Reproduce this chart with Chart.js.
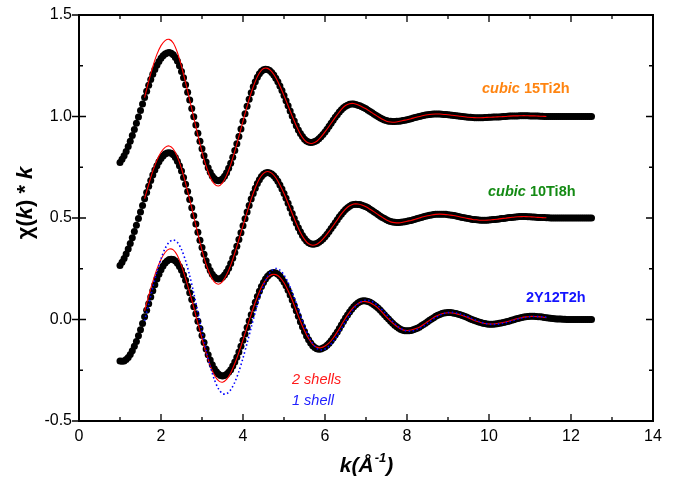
<!DOCTYPE html>
<html>
<head>
<meta charset="utf-8">
<title>chi(k)*k</title>
<script src="https://cdn.jsdelivr.net/npm/chart.js@4.4.1/dist/chart.umd.min.js"></script>
<style>
  html, body { margin: 0; padding: 0; background: #fff; }
  canvas { display: block; }
</style>
</head>
<body>
<canvas id="c" width="677" height="485"></canvas>
<script>
/* measured points: k from 1.00 to 12.50, step 0.05 */
const dotStart = 1.0, dotStep = 0.05;

const ti2hDots = [
  0.773,0.789,0.807,0.828,0.852,0.878,0.906,0.936,0.967,0.998,
  1.030,1.062,1.093,1.124,1.154,1.182,1.208,1.232,1.253,1.271,
  1.287,1.299,1.308,1.313,1.315,1.312,1.304,1.291,1.273,1.250,
  1.222,1.191,1.157,1.120,1.081,1.040,0.999,0.958,0.917,0.878,
  0.841,0.807,0.776,0.748,0.725,0.707,0.694,0.686,0.683,0.686,
  0.693,0.706,0.723,0.745,0.770,0.799,0.832,0.866,0.902,0.939,
  0.977,1.014,1.050,1.085,1.117,1.146,1.171,1.193,1.210,1.223,
  1.230,1.233,1.231,1.226,1.217,1.204,1.189,1.171,1.150,1.128,
  1.103,1.078,1.053,1.027,1.002,0.978,0.955,0.934,0.916,0.901,
  0.888,0.879,0.874,0.872,0.873,0.877,0.882,0.890,0.900,0.911,
  0.924,0.937,0.952,0.967,0.981,0.996,1.009,1.022,1.033,1.043,
  1.051,1.056,1.060,1.061,1.061,1.059,1.056,1.053,1.048,1.043,
  1.038,1.031,1.025,1.018,1.011,1.005,0.999,0.993,0.988,0.983,
  0.980,0.977,0.976,0.975,0.975,0.976,0.977,0.978,0.980,0.982,
  0.984,0.987,0.989,0.992,0.995,0.998,1.000,1.003,1.005,1.007,
  1.009,1.010,1.011,1.012,1.012,1.012,1.012,1.011,1.010,1.010,
  1.009,1.008,1.006,1.005,1.004,1.002,1.001,1.000,0.999,0.997,
  0.996,0.996,0.995,0.994,0.994,0.994,0.994,0.994,0.995,0.995,
  0.996,0.996,0.997,0.997,0.998,0.998,0.999,1.000,1.000,1.001,
  1.002,1.002,1.003,1.003,1.003,1.004,1.004,1.004,1.004,1.004,
  1.003,1.003,1.003,1.002,1.002,1.001,1.001,1.000,1.000,1.000,
  1.000,1.000,1.000,1.000,1.000,1.000,1.000,1.000,1.000,1.000,
  1.000,1.000,1.000,1.000,1.000,1.000,1.000,1.000,1.000,1.000,
  1.000
];

const ti8hDots = [
  0.266,0.282,0.301,0.323,0.347,0.374,0.403,0.433,0.464,0.497,
  0.530,0.562,0.595,0.626,0.656,0.685,0.712,0.736,0.758,0.777,
  0.793,0.806,0.815,0.820,0.822,0.819,0.811,0.798,0.780,0.758,
  0.731,0.700,0.666,0.630,0.591,0.551,0.511,0.470,0.430,0.391,
  0.355,0.321,0.290,0.263,0.241,0.223,0.210,0.202,0.199,0.201,
  0.208,0.219,0.234,0.253,0.276,0.302,0.330,0.361,0.394,0.427,
  0.462,0.496,0.529,0.562,0.593,0.621,0.647,0.670,0.689,0.704,
  0.715,0.722,0.724,0.722,0.717,0.708,0.696,0.681,0.663,0.643,
  0.621,0.597,0.573,0.548,0.522,0.498,0.474,0.452,0.432,0.414,
  0.399,0.387,0.378,0.373,0.371,0.372,0.375,0.381,0.388,0.397,
  0.408,0.420,0.434,0.448,0.462,0.477,0.491,0.506,0.519,0.531,
  0.542,0.551,0.558,0.564,0.567,0.568,0.567,0.566,0.563,0.559,
  0.555,0.550,0.543,0.537,0.530,0.523,0.516,0.509,0.503,0.497,
  0.491,0.487,0.483,0.480,0.479,0.478,0.478,0.479,0.480,0.482,
  0.484,0.486,0.488,0.491,0.494,0.497,0.500,0.503,0.506,0.509,
  0.511,0.514,0.515,0.517,0.518,0.519,0.519,0.519,0.518,0.518,
  0.516,0.515,0.513,0.512,0.510,0.507,0.505,0.503,0.501,0.499,
  0.497,0.495,0.493,0.492,0.491,0.490,0.489,0.489,0.489,0.489,
  0.490,0.491,0.492,0.493,0.494,0.495,0.497,0.498,0.499,0.501,
  0.502,0.503,0.504,0.505,0.506,0.507,0.507,0.507,0.507,0.506,
  0.506,0.505,0.505,0.504,0.503,0.503,0.502,0.502,0.501,0.501,
  0.500,0.500,0.500,0.500,0.500,0.500,0.500,0.500,0.500,0.500,
  0.500,0.500,0.500,0.500,0.500,0.500,0.500,0.500,0.500,0.500,
  0.500
];

const y12Dots = [
  -0.204,-0.206,-0.204,-0.197,-0.187,-0.172,-0.154,-0.132,-0.108,-0.080,
  -0.051,-0.020,0.013,0.046,0.078,0.111,0.142,0.171,0.199,0.223,
  0.245,0.263,0.278,0.288,0.295,0.297,0.295,0.288,0.277,0.261,
  0.242,0.219,0.193,0.164,0.132,0.098,0.063,0.028,-0.009,-0.044,
  -0.079,-0.113,-0.145,-0.174,-0.200,-0.223,-0.243,-0.258,-0.269,-0.276,
  -0.278,-0.276,-0.270,-0.260,-0.247,-0.229,-0.209,-0.186,-0.160,-0.132,
  -0.102,-0.071,-0.040,-0.008,0.024,0.055,0.085,0.113,0.139,0.162,
  0.182,0.200,0.213,0.223,0.229,0.231,0.229,0.223,0.214,0.201,
  0.185,0.166,0.144,0.121,0.096,0.069,0.043,0.016,-0.011,-0.036,
  -0.059,-0.081,-0.100,-0.116,-0.129,-0.138,-0.144,-0.146,-0.145,-0.141,
  -0.135,-0.127,-0.117,-0.105,-0.091,-0.076,-0.061,-0.044,-0.027,-0.010,
  0.007,0.022,0.037,0.051,0.063,0.073,0.081,0.087,0.091,0.092,
  0.091,0.089,0.085,0.079,0.072,0.064,0.055,0.045,0.034,0.024,
  0.012,0.002,-0.009,-0.019,-0.028,-0.036,-0.043,-0.049,-0.053,-0.055,
  -0.056,-0.055,-0.054,-0.051,-0.047,-0.043,-0.038,-0.031,-0.025,-0.018,
  -0.011,-0.004,0.003,0.009,0.016,0.021,0.025,0.029,0.032,0.033,
  0.034,0.034,0.033,0.031,0.029,0.026,0.023,0.020,0.016,0.012,
  0.008,0.003,-0.001,-0.005,-0.009,-0.012,-0.015,-0.018,-0.020,-0.022,
  -0.023,-0.023,-0.023,-0.022,-0.021,-0.019,-0.017,-0.015,-0.012,-0.010,
  -0.007,-0.004,-0.001,0.003,0.005,0.008,0.010,0.012,0.014,0.015,
  0.016,0.016,0.016,0.015,0.014,0.013,0.012,0.010,0.009,0.007,
  0.006,0.005,0.004,0.003,0.002,0.002,0.001,0.001,0.000,0.000,
  0,0,0,0,0,0,0,0,0,0,
  0
];

/* fits: k from 1.6 to 11.4, step 0.1 */
const fitStart = 1.6, fitStep = 0.1;

const ti2hFit = [
  1.093,1.174,1.246,1.306,1.349,1.374,1.380,1.362,1.315,1.247,
  1.167,1.081,0.994,0.907,0.826,0.756,0.701,0.668,0.658,0.673,
  0.710,0.763,0.829,0.902,0.977,1.050,1.117,1.173,1.214,1.236,
  1.237,1.221,1.191,1.150,1.103,1.053,1.002,0.954,0.913,0.884,
  0.869,0.868,0.878,0.898,0.924,0.952,0.981,1.009,1.035,1.054,
  1.063,1.064,1.058,1.048,1.038,1.025,1.011,0.999,0.986,0.977,
  0.973,0.972,0.975,0.980,0.984,0.989,0.995,1.000,1.005,1.009,
  1.011,1.012,1.012,1.010,1.009,1.006,1.004,1.001,0.999,0.996,
  0.995,0.994,0.994,0.995,0.996,0.997,0.998,0.999,1.000,1.002,
  1.003,1.003,1.004,1.004,1.003,1.003,1.002,1.001,1.000
];

const ti8hFit = [
  0.595,0.666,0.731,0.784,0.824,0.848,0.855,0.840,0.801,0.743,
  0.671,0.591,0.507,0.422,0.342,0.272,0.219,0.185,0.174,0.187,
  0.220,0.268,0.327,0.394,0.462,0.529,0.593,0.649,0.693,0.720,
  0.729,0.721,0.698,0.663,0.621,0.573,0.522,0.473,0.429,0.395,
  0.373,0.366,0.371,0.386,0.408,0.434,0.462,0.491,0.520,0.544,
  0.560,0.569,0.569,0.564,0.555,0.543,0.530,0.516,0.503,0.490,
  0.481,0.477,0.476,0.479,0.484,0.488,0.494,0.500,0.506,0.511,
  0.515,0.518,0.519,0.518,0.516,0.513,0.510,0.505,0.501,0.497,
  0.493,0.491,0.489,0.489,0.490,0.492,0.494,0.497,0.499,0.502,
  0.504,0.506,0.507,0.507,0.506,0.505,0.503,0.502,0.501
];

const y12Fit2 = [
  0.043,0.118,0.187,0.248,0.296,0.330,0.347,0.343,0.315,0.264,
  0.201,0.132,0.058,-0.019,-0.094,-0.165,-0.226,-0.273,-0.301,-0.309,
  -0.295,-0.263,-0.217,-0.162,-0.100,-0.037,0.026,0.085,0.137,0.178,
  0.207,0.221,0.221,0.208,0.181,0.142,0.096,0.043,-0.009,-0.055,
  -0.094,-0.122,-0.137,-0.139,-0.131,-0.115,-0.091,-0.061,-0.027,0.007,
  0.036,0.061,0.078,0.088,0.088,0.083,0.071,0.055,0.034,0.012,
  -0.008,-0.026,-0.041,-0.051,-0.054,-0.052,-0.046,-0.038,-0.025,-0.011,
  0.003,0.016,0.025,0.031,0.033,0.032,0.029,0.023,0.016,0.008,
  -0.001,-0.009,-0.015,-0.020,-0.022,-0.022,-0.020,-0.016,-0.012,-0.007,
  -0.001,0.005,0.010,0.013,0.015,0.015,0.014,0.012,0.009
];

const y12Fit1 = [
  -0.006,0.076,0.158,0.234,0.299,0.350,0.381,0.392,0.380,0.345,
  0.289,0.216,0.129,0.036,-0.059,-0.150,-0.230,-0.295,-0.341,-0.365,
  -0.366,-0.346,-0.309,-0.256,-0.190,-0.116,-0.039,0.037,0.107,0.167,
  0.213,0.241,0.251,0.243,0.219,0.182,0.134,0.079,0.022,-0.033,
  -0.081,-0.118,-0.142,-0.150,-0.145,-0.131,-0.108,-0.078,-0.045,-0.010,
  0.023,0.053,0.076,0.090,0.095,0.092,0.082,0.066,0.046,0.024,
  0.001,-0.020,-0.038,-0.050,-0.057,-0.057,-0.053,-0.044,-0.033,-0.019,
  -0.004,0.010,0.021,0.030,0.034,0.035,0.032,0.027,0.020,0.012,
  0.003,-0.005,-0.013,-0.019,-0.023,-0.024,-0.023,-0.020,-0.016,-0.011,
  -0.005,0.002,0.007,0.011,0.014,0.015,0.014,0.013,0.011
];

const xTicks = [0, 2, 4, 6, 8, 10, 12, 14];
const yTicks = [-0.5, 0.0, 0.5, 1.0, 1.5];

const labels = [
  { parts: [['cubic ', 'italic bold'], ['15Ti2h', 'bold']], color: '#ff8410', x: 482, y: 89 },
  { parts: [['cubic ', 'italic bold'], ['10Ti8h', 'bold']], color: '#138a13', x: 488, y: 192 },
  { parts: [['2Y12T2h', 'bold']], color: '#1414ff', x: 526, y: 298 },
  { parts: [['2 shells', 'italic']], color: '#ff1a1a', x: 292, y: 380 },
  { parts: [['1 shell', 'italic']], color: '#2020ff', x: 292, y: 401 }
];

const FONT = '"Liberation Sans", Arial, sans-serif';

function toPts(vals, start, step) {
  return vals.map((v, i) => ({ x: +(start + i * step).toFixed(2), y: v }));
}

function dots(vals) {
  return {
    data: toPts(vals, dotStart, dotStep), showLine: false,
    pointRadius: 3.5, pointBorderWidth: 0, pointBackgroundColor: '#000', order: 10
  };
}

function fit(vals, color, dash, order) {
  return {
    data: toPts(vals, fitStart, fitStep), showLine: true, pointRadius: 0,
    borderColor: color, borderWidth: dash ? 1.6 : 1.1, borderDash: dash || [],
    tension: 0.3, fill: false, order
  };
}

/* frame, inside ticks, labels, titles */
const decor = {
  id: 'decor',
  afterDraw(chart) {
    const { ctx, chartArea: a, scales: { x, y } } = chart;
    ctx.save();
    ctx.strokeStyle = '#000';
    ctx.lineWidth = 2;
    ctx.strokeRect(a.left, a.top, a.right - a.left, a.bottom - a.top);

    ctx.lineWidth = 1.3;
    ctx.beginPath();
    for (let k = 0; k <= 14; k++) {
      const px = x.getPixelForValue(k);
      const len = k % 2 === 0 ? 7 : 4;
      ctx.moveTo(px, a.bottom); ctx.lineTo(px, a.bottom - len);
      ctx.moveTo(px, a.top); ctx.lineTo(px, a.top + len);
    }
    for (let j = 0; j <= 8; j++) {
      const v = -0.5 + j * 0.25;
      const py = y.getPixelForValue(v);
      const major = j % 2 === 0;
      const len = major ? 7 : 4;
      ctx.moveTo(a.left - (major ? 7 : 0), py); ctx.lineTo(a.left + len, py);
      ctx.moveTo(a.right, py); ctx.lineTo(a.right - len, py);
    }
    ctx.stroke();

    ctx.fillStyle = '#000';
    ctx.font = '16px ' + FONT;
    ctx.textBaseline = 'middle';
    ctx.textAlign = 'center';
    xTicks.forEach(t => ctx.fillText(String(t), x.getPixelForValue(t), a.bottom + 16));
    ctx.textAlign = 'right';
    yTicks.forEach(t => ctx.fillText(t.toFixed(1), a.left - 7, y.getPixelForValue(t)));

    /* x title: k(Å^-1) */
    ctx.textAlign = 'left';
    const big = 'italic bold 21px ' + FONT, small = 'italic bold 13px ' + FONT;
    ctx.font = big;
    const w1 = ctx.measureText('k(Å').width, w3 = ctx.measureText(')').width;
    ctx.font = small;
    const w2 = ctx.measureText('-1').width;
    let tx = 366 - (w1 + w2 + w3) / 2;
    const ty = 466;
    ctx.font = big; ctx.fillText('k(Å', tx, ty); tx += w1;
    ctx.font = small; ctx.fillText('-1', tx + 1, ty - 8); tx += w2 + 1;
    ctx.font = big; ctx.fillText(')', tx, ty);

    /* y title: χ(k) * k */
    ctx.save();
    ctx.translate(26, 203);
    ctx.rotate(-Math.PI / 2);
    const segs = [['χ', 'bold'], ['(', 'bold'], ['k', 'italic bold'], [')', 'bold'],
                  [' * ', 'bold'], ['k', 'italic bold']];
    let total = 0;
    segs.forEach(([s, f]) => { ctx.font = f + ' 22px ' + FONT; total += ctx.measureText(s).width; });
    let sx = -total / 2;
    segs.forEach(([s, f]) => {
      ctx.font = f + ' 22px ' + FONT;
      ctx.fillText(s, sx, 0);
      sx += ctx.measureText(s).width;
    });
    ctx.restore();

    /* series annotations */
    labels.forEach(l => {
      let lx = l.x;
      ctx.fillStyle = l.color;
      l.parts.forEach(([s, f]) => {
        ctx.font = f + ' 14.5px ' + FONT;
        ctx.fillText(s, lx, l.y);
        lx += ctx.measureText(s).width;
      });
    });
    ctx.restore();
  }
};

new Chart(document.getElementById('c'), {
  type: 'scatter',
  data: {
    datasets: [
      dots(ti2hDots), dots(ti8hDots), dots(y12Dots),
      fit(ti2hFit, '#ff0000', null, 2),
      fit(ti8hFit, '#ff0000', null, 2),
      fit(y12Fit2, '#ff0000', null, 2),
      fit(y12Fit1, '#0000ff', [1.5, 2.5], 1)
    ]
  },
  options: {
    responsive: false,
    animation: false,
    devicePixelRatio: 1,
    layout: { padding: { left: 79, right: 24, top: 15, bottom: 64 } },
    plugins: { legend: { display: false }, tooltip: { enabled: false } },
    scales: {
      x: { type: 'linear', min: 0, max: 14, display: false },
      y: { type: 'linear', min: -0.5, max: 1.5, display: false }
    }
  },
  plugins: [decor]
});
</script>
</body>
</html>
